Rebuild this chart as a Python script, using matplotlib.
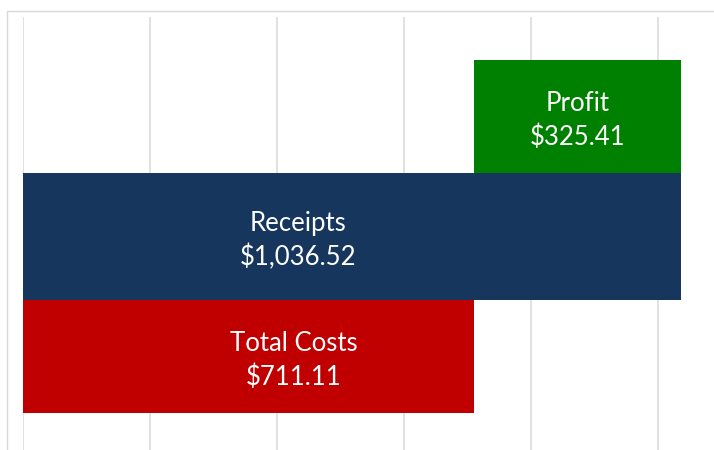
import matplotlib.pyplot as plt
from matplotlib.patches import Rectangle

# data
categories = ["Total Costs", "Receipts", "Profit"]
total_costs = 711.11
receipts = 1036.52
profit = 325.41
starts = [0, 0, total_costs]
widths = [total_costs, receipts, profit]
colors = ["#c00000", "#17365d", "#008000"]

W, H = 714, 450
fig = plt.figure(figsize=(W / 100, H / 100), dpi=100)
fig.patch.set_facecolor("white")

# outer chart border (partly cropped)
fig.add_artist(Rectangle((7 / W, -0.1), 1.2, (H - 11) / H + 0.1,
                         transform=fig.transFigure, fill=False,
                         edgecolor="#d9d9d9", linewidth=1.0))

ax = fig.add_axes([22.5 / W, 0, (W - 22.5) / W, (H - 17) / H])
ax.set_facecolor("none")

px_per_unit = 0.6355
ax.set_xlim(0, (W - 22.5) / px_per_unit)
ax.set_ylim(-(H - 356.35) / 120, (356.35 - 17) / 120)

ypos = range(len(categories))
heights = [0.94, 1.06, 0.94]
ax.barh(ypos, widths, left=starts, height=heights, color=colors, zorder=2)

for x in range(0, 1200, 200):
    ax.axvline(x, color="#d9d9d9", linewidth=1.1, zorder=1)

# labels of the two long bars sit left of centre, as in the original
label_x = [427, 434, total_costs + profit / 2]
for y, lx, w, name in zip(ypos, label_x, widths, categories):
    ax.text(lx, y - 0.035, f"{name}\n${w:,.2f}", ha="center", va="center",
            color="white", fontsize=18.5, family="Lato", linespacing=1.42,
            zorder=3)

for sp in ax.spines.values():
    sp.set_visible(False)
ax.set_xticks([])
ax.set_yticks([])

fig.savefig("out.png", dpi=100)
